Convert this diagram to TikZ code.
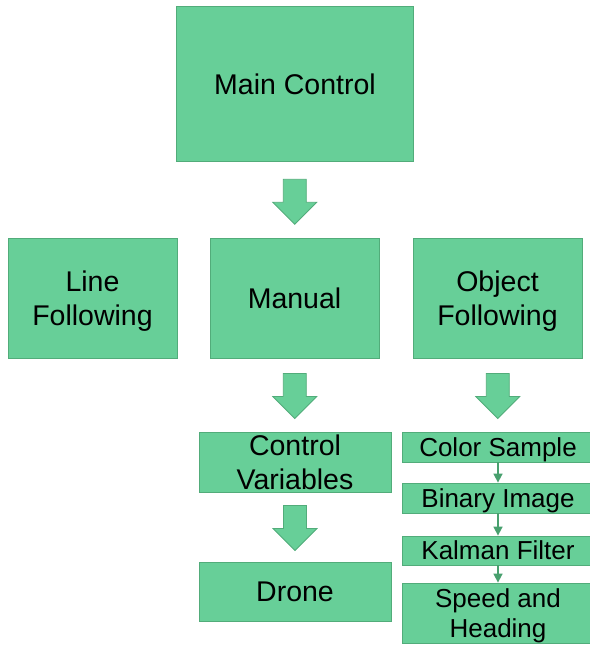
\documentclass[tikz,border=0pt]{standalone}
\usepackage{fontspec}
\setmainfont{Liberation Sans}
\usetikzlibrary{calc,arrows.meta}
\definecolor{boxfill}{RGB}{103,207,152}
\definecolor{boxline}{RGB}{82,172,122}
\definecolor{arrowline}{RGB}{72,160,110}
\tikzset{
  x=1pt, y=-1pt,
  box/.style={draw=boxline, line width=0.8pt, fill=boxfill, rectangle, align=center, inner sep=0pt},
  bigtext/.style={font=\fontsize{28.5}{34}\selectfont},
  smalltext/.style={font=\fontsize{26}{30.5}\selectfont},
  lowtext/.style={text depth=0pt},
  smallarrow/.style={draw=arrowline, line width=1.6pt, -{Triangle[width=9pt,length=9pt]}},
  pics/blockarrow/.style={code={
    \draw[draw=boxline, line width=0.8pt, fill=boxfill]
      (-11.5,-22.5) -- (11.5,-22.5) -- (11.5,0.5) -- (22,0.5) -- (0,22.5)
      -- (-22,0.5) -- (-11.5,0.5) -- cycle;
  }}
}
\begin{document}
\begin{tikzpicture}
\useasboundingbox (0,0) rectangle (589,647);
\node[box, bigtext, minimum width=237pt, minimum height=155pt] (main) at (295,84) {Main Control};
\node[box, bigtext, lowtext, minimum width=169pt, minimum height=120pt] (line) at (92.5,298) {Line\\Following};
\node[box, bigtext, minimum width=169pt, minimum height=120pt] (manual) at (294.5,298) {Manual};
\node[box, bigtext, lowtext, minimum width=169pt, minimum height=120pt] (object) at (497.5,298) {Object\\Following};
\node[box, bigtext, minimum width=192pt, minimum height=60pt] (ctrl) at (295,462) {Control\\Variables};
\node[box, bigtext, minimum width=192pt, minimum height=59pt] (drone) at (295,591.5) {Drone};
\node[box, smalltext, lowtext, minimum width=192pt, minimum height=30pt] (color) at (498,447) {Color Sample};
\node[box, smalltext, lowtext, minimum width=192pt, minimum height=30pt] (binary) at (498,498) {Binary Image};
\node[box, smalltext, minimum width=192pt, minimum height=29pt] (kalman) at (498,550.5) {Kalman Filter};
\node[box, smalltext, lowtext, minimum width=192pt, minimum height=60pt] (speed) at (498,613) {Speed and\\Heading};

\coordinate (a1) at ($(main.south)!0.5!(manual.north)$);
\coordinate (a2) at ($(manual.south)!0.5!(ctrl.north)$);
\coordinate (a3) at ($(ctrl.south)!0.5!(drone.north)$);
\coordinate (a4) at ($(object.south)!0.5!(color.north)$);
\pic at ($(a1)+(0,2)$) {blockarrow};
\pic at ($(a2)+(0,1)$) {blockarrow};
\pic at ($(a3)+(0,1)$) {blockarrow};
\pic at ($(a4)+(0,1)$) {blockarrow};

\draw[smallarrow] (color.south) -- (binary.north);
\draw[smallarrow] (binary.south) -- (kalman.north);
\draw[smallarrow] (kalman.south) -- (speed.north);
\end{tikzpicture}
\end{document}
